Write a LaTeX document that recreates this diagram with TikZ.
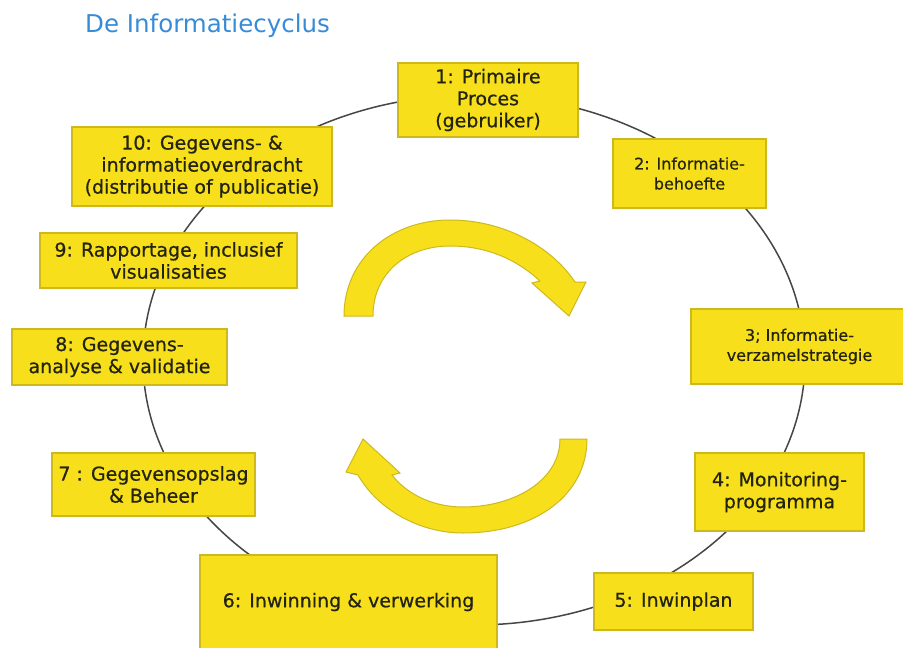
\documentclass[tikz,border=0pt]{standalone}
\usepackage{fontspec}
\setmainfont{DejaVu Sans}
\newfontfamily\boxfont{DejaVu Sans}[FakeBold=0.6]
\definecolor{boxfill}{RGB}{247,224,27}
\definecolor{boxline}{RGB}{205,185,30}
\definecolor{ringline}{RGB}{70,70,70}
\definecolor{titleblue}{RGB}{55,140,215}
\definecolor{txt}{RGB}{35,35,15}
\begin{document}
\begin{tikzpicture}[x=1pt,y=-1pt,
  box/.style={draw=boxline, line width=1.2pt, fill=boxfill, align=center, text=txt, inner sep=0pt, font=\boxfont\fontsize{19}{22}\selectfont},
  small/.style={font=\boxfont\fontsize{16}{20}\selectfont},
  ring/.style={draw=ringline, line width=1.5pt},
  curvearrow/.style={fill=boxfill, draw=boxline, line width=1pt}]
\useasboundingbox (0,0) rectangle (903,648);
\fill[white] (0,0) rectangle (903,648);
\node[anchor=base west, text=titleblue, font=\fontsize{24.5}{28}\selectfont, inner sep=0pt] (title) at (85,32) {De Informatiecyclus};
\coordinate (c) at (474,360);
\draw[ring] (c) ellipse [x radius=331pt, y radius=265pt];
\node[box, minimum width=180pt, minimum height=74pt] (n1) at (488,100) {1: Primaire\\Proces\\(gebruiker)};
\node[box, small, minimum width=153pt, minimum height=69pt] (n2) at (689.5,173.5) {2: Informatie-\\behoefte};
\node[box, small, minimum width=217pt, minimum height=75pt] (n3) at (799.5,346.5) {3; Informatie-\\verzamelstrategie};
\node[box, minimum width=169pt, minimum height=78pt] (n4) at (779.5,492) {4: Monitoring-\\programma};
\node[box, minimum width=159pt, minimum height=57pt] (n5) at (673.5,601.5) {5: Inwinplan};
\node[box, minimum width=297pt, minimum height=94pt] (n6) at (348.5,602) {6: Inwinning \& verwerking};
\node[box, minimum width=203pt, minimum height=63pt] (n7) at (153.5,484.5) {7 : Gegevensopslag\\\& Beheer};
\node[box, minimum width=215pt, minimum height=56pt] (n8) at (119.5,357) {8: Gegevens-\\analyse \& validatie};
\node[box, minimum width=257pt, minimum height=55pt] (n9) at (168.5,260.5) {9: Rapportage, inclusief\\visualisaties};
\node[box, minimum width=260pt, minimum height=79pt] (n10) at (202,166.5) {10: Gegevens- \&\\informatieoverdracht\\(distributie of publicatie)};
% top curved arrow
\path[curvearrow] (344,316) .. controls (344,258) and (392,220) .. (450,220)
  .. controls (502,220) and (550,245) .. (575,282) -- (586,282) -- (569,316) -- (532,283) -- (540,281)
  .. controls (515,258) and (485,246) .. (450,246)
  .. controls (408,246) and (373,272) .. (373,316) -- cycle;
% bottom curved arrow
\path[curvearrow] (587,439) -- (560,439) .. controls (560,480) and (515,507) .. (463,507)
  .. controls (430,507) and (405,492) .. (392,475) -- (400,473) -- (363,439) -- (346,472) -- (358,475)
  .. controls (378,510) and (420,533) .. (463,533)
  .. controls (535,533) and (587,495) .. (587,439) -- cycle;
\end{tikzpicture}
\end{document}
